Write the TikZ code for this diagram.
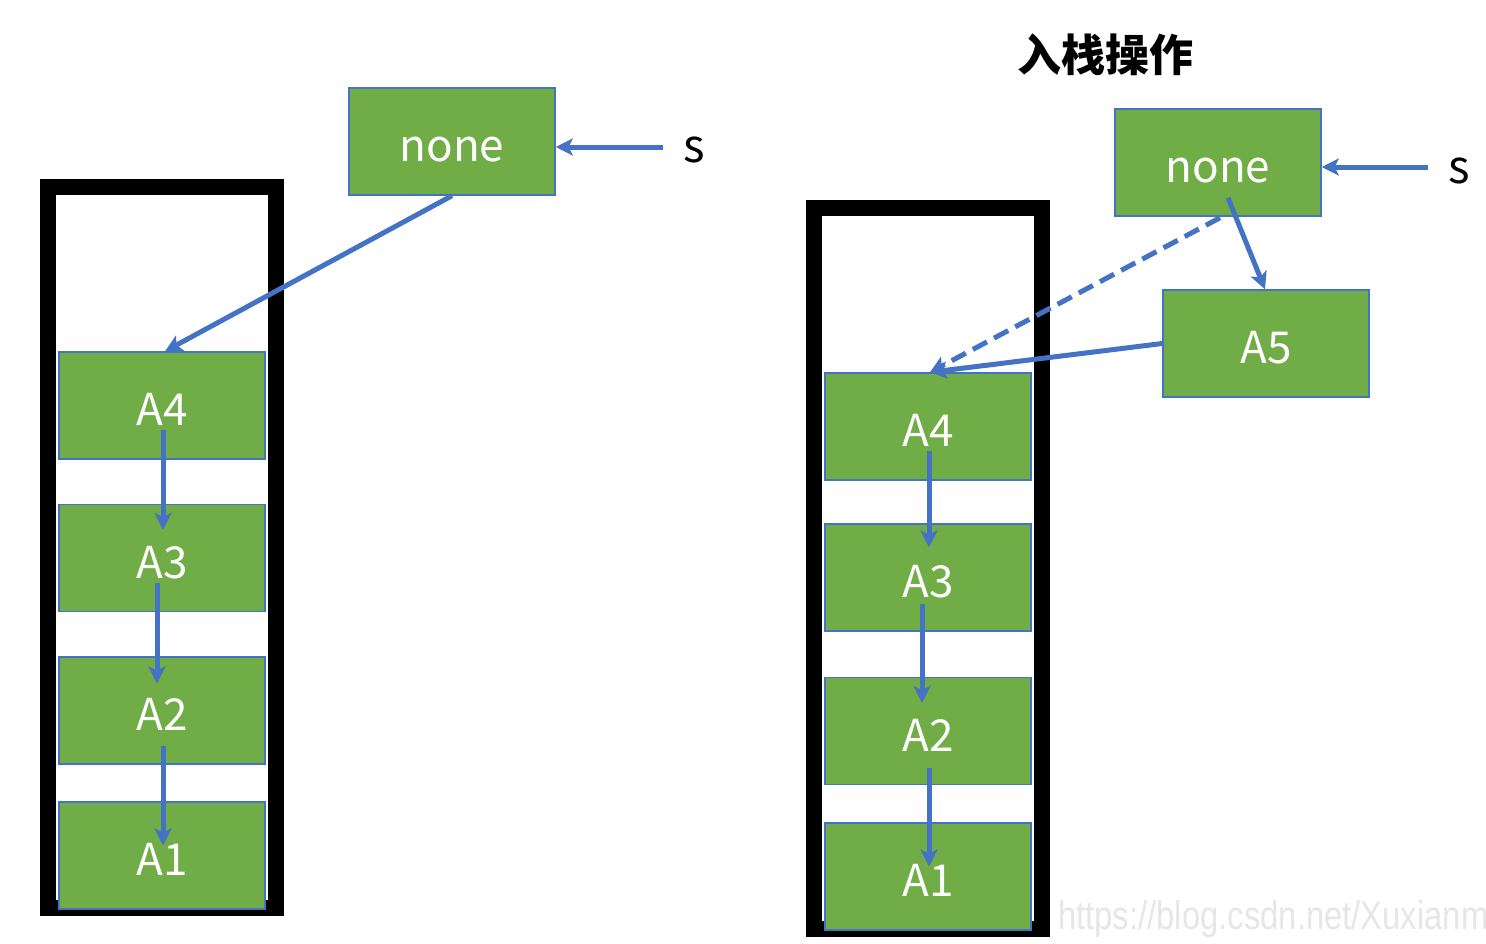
\documentclass[tikz,border=0pt]{standalone}
\usepackage{fontspec}
\setmainfont{Noto Sans CJK SC}
\newfontfamily\wmfont{Liberation Sans}
\usetikzlibrary{arrows.meta}
\definecolor{boxgreen}{HTML}{70AD47}
\definecolor{arrowblue}{HTML}{4472C4}
\definecolor{wmgray}{HTML}{E6E6E6}
\tikzset{
  cell/.style={draw=arrowblue, line width=1.5pt, fill=boxgreen, minimum width=206pt, minimum height=107pt, inner sep=0pt, text height=40pt, text depth=0pt, text=white, font=\fontsize{44}{48}\selectfont},
  frame/.style={draw=black, line width=16pt},
  link/.style={draw=arrowblue, line width=5pt, -{Stealth[length=17pt,width=17pt,inset=4pt]}},
  dlink/.style={link, dash pattern=on 16pt off 8pt},
  lbl/.style={font=\fontsize{46}{50}\selectfont, text=black, inner sep=0pt, anchor=base}
}
\begin{document}
\begin{tikzpicture}[x=1pt,y=-1pt]
\useasboundingbox (0,0) rectangle (1486,943);
% ---------- left panel ----------
\draw[frame] (48,187) rectangle (276,908);
\node[cell] (nL) at (452,141.5) {none};
\node[lbl] (sL) at (694,162) {s};
\coordinate (sLe) at (663,147);
\node[cell] (L4) at (162,405.5) {A4};
\node[cell] (L3) at (162,558) {A3};
\node[cell] (L2) at (162,710.5) {A2};
\node[cell] (L1) at (162,855.5) {A1};
\draw[link] (sLe) -- (nL.east |- sLe);
\draw[link] (nL.south) -- ([xshift=3pt]L4.north);
\draw[link] ([xshift=1pt,yshift=-24pt]L4.center) -- ([xshift=1pt,yshift=28pt]L3.center);
\draw[link] ([xshift=-5pt,yshift=-25pt]L3.center) -- ([xshift=-5pt,yshift=27pt]L2.center);
\draw[link] ([xshift=1pt,yshift=-35pt]L2.center) -- ([xshift=1pt,yshift=10pt]L1.center);
% ---------- right panel ----------
\node[font=\fontsize{44}{48}\selectfont\bfseries] (title) at (1105,55) {入栈操作};
\draw[frame] (814,208) rectangle (1042,929);
\node[cell] (nR) at (1218,162.5) {none};
\node[lbl] (sR) at (1459,183) {s};
\coordinate (sRe) at (1428,167);
\node[cell] (R5) at (1266,343.5) {A5};
\node[cell] (R4) at (928,426.5) {A4};
\node[cell] (R3) at (928,577.5) {A3};
\node[cell] (R2) at (928,731) {A2};
\node[cell] (R1) at (928,876.5) {A1};
\draw[link] (sRe) -- (nR.east |- sRe);
\draw[link] ([xshift=10pt,yshift=19pt]nR.south) -- ([xshift=-1pt]R5.north);
\draw[dlink] ([xshift=2pt,yshift=-1pt]nR.south) -- ([xshift=2pt]R4.north);
\draw[link] (R5.west) -- ([xshift=2pt]R4.north);
\draw[link] ([xshift=1pt,yshift=-24pt]R4.center) -- ([xshift=1pt,yshift=30pt]R3.center);
\draw[link] ([xshift=-6pt,yshift=-26pt]R3.center) -- ([xshift=-6pt,yshift=28pt]R2.center);
\draw[link] ([xshift=1pt,yshift=-37pt]R2.center) -- ([xshift=1pt,yshift=10pt]R1.center);
% watermark
\node[anchor=west, inner sep=0pt, text=wmgray, font=\wmfont\fontsize{40}{44}\selectfont, xscale=0.82] (wm) at (1058,919) {https://blog.csdn.net/Xuxianm};
\end{tikzpicture}
\end{document}
